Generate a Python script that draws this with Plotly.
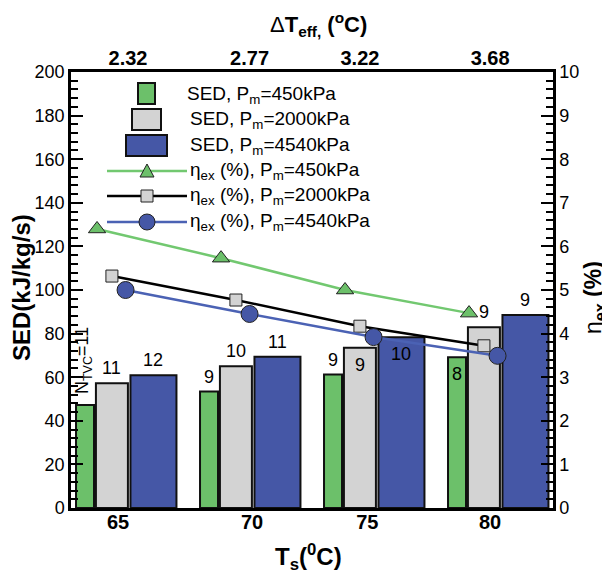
import plotly.graph_objects as go

# ---------------- data ----------------
Ts = [65, 70, 75, 80]
dTeff = ["2.32", "2.77", "3.22", "3.68"]

sed_450 = [47.2, 53.4, 61.2, 69.1]
sed_2000 = [57.2, 65.0, 73.5, 82.9]
sed_4540 = [60.9, 69.4, 78.3, 88.5]

eta_450 = [6.40, 5.73, 5.00, 4.47]
eta_2000 = [5.32, 4.77, 4.17, 3.72]
eta_4540 = [5.00, 4.45, 3.92, 3.49]

ntvc_450 = [11, 9, 9, 8]
ntvc_2000 = [11, 10, 9, 9]
ntvc_4540 = [12, 11, 10, 9]

# ---------------- style ----------------
FONT = "Liberation Sans, Arial, sans-serif"
GREEN = "#6cc06a"
GRAY = "#d3d3d3"
BLUE = "#4557a6"
GREEN_LINE = "#72c870"
BLUE_LINE = "#4b62b4"
EDGE = "#111111"

W, H = 610, 576
PAGE_OFF = 8                      # default body margin of the page
PL, PT, PW, PH = 71, 72, 482, 436  # plot area as seen on the page
L, T = PL - PAGE_OFF, PT - PAGE_OFF
R, B = W - L - PW, H - T - PH

grp = list(range(len(Ts)))
XR = [-0.04, PW / 124 - 0.04]

# per-series bar offset/width within a group (group units)
bar_specs = [
    (sed_450, ntvc_450, GREEN, 0.073, 0.145, ["rot", "above", "above", "below"]),
    (sed_2000, ntvc_2000, GRAY, 0.29, 0.258, ["above", "above", "below", "above"]),
    (sed_4540, ntvc_4540, BLUE, 0.625, 0.371, ["above", "above", "below", "above"]),
]
line_specs = [
    (eta_450, GREEN_LINE, GREEN, "triangle-up", 15, 0.17),
    (eta_2000, "#000000", GRAY, "square", 12, 0.29),
    (eta_4540, BLUE_LINE, BLUE, "circle", 17, 0.40),
]

fig = go.Figure()
annotations = []

for vals, labels, col, off, wd, place in bar_specs:
    xs = [g + off for g in grp]
    fig.add_trace(go.Bar(
        x=xs, y=vals, width=[wd] * len(vals),
        marker=dict(color=col, line=dict(color=EDGE, width=2)),
        xaxis="x", yaxis="y", showlegend=False,
    ))
    for x, v, n, p in zip(xs, vals, labels, place):
        if p == "rot":
            annotations.append(dict(
                x=x, y=v, xref="x", yref="y", text=f"N<sub>TVC</sub>={n}",
                textangle=-90, showarrow=False, yshift=44, xshift=-2,
                xanchor="center", yanchor="middle",
                font=dict(family=FONT, size=18, color="#000")))
        else:
            annotations.append(dict(
                x=x, y=v, xref="x", yref="y", text=str(n), showarrow=False,
                yshift=15 if p == "above" else -17,
                xanchor="center", yanchor="middle",
                font=dict(family=FONT, size=18, color="#000")))

for vals, lc, mc, sym, sz, off in line_specs:
    fig.add_trace(go.Scatter(
        x=[g + off for g in grp], y=vals, mode="lines+markers",
        line=dict(color=lc, width=2.5),
        marker=dict(symbol=sym, size=sz, color=mc, line=dict(color="#222", width=1)),
        xaxis="x2", yaxis="y2", showlegend=False,
    ))

# ---------------- legend (manual) ----------------
def px(x):
    return (x - PL) / PW

def py(y):
    return (PT + PH - y) / PH

shapes = []
leg_rects = [(GREEN, 138, 155, 83, 104), (GRAY, 132, 161, 109, 130), (BLUE, 126, 167, 135, 156)]
for col, x0, x1, y0, y1 in leg_rects:
    shapes.append(dict(type="rect", xref="paper", yref="paper",
                       x0=px(x0), x1=px(x1), y0=py(y1), y1=py(y0),
                       fillcolor=col, line=dict(color=EDGE, width=2)))
leg_lines = [(GREEN_LINE, GREEN, "tri", 171), ("#000000", GRAY, "sq", 196), (BLUE_LINE, BLUE, "circ", 222)]
for lc, mc, kind, yy in leg_lines:
    shapes.append(dict(type="line", xref="paper", yref="paper",
                       x0=px(107), x1=px(187), y0=py(yy), y1=py(yy),
                       line=dict(color=lc, width=2.5)))
    cx = 147
    if kind == "tri":
        path = f"M {px(cx-7)},{py(yy+6)} L {px(cx+7)},{py(yy+6)} L {px(cx)},{py(yy-7)} Z"
        shapes.append(dict(type="path", xref="paper", yref="paper", path=path,
                           fillcolor=mc, line=dict(color="#222", width=1)))
    elif kind == "sq":
        shapes.append(dict(type="rect", xref="paper", yref="paper",
                           x0=px(cx-6), x1=px(cx+6), y0=py(yy+6), y1=py(yy-6),
                           fillcolor=mc, line=dict(color="#222", width=1)))
    else:
        shapes.append(dict(type="circle", xref="paper", yref="paper",
                           x0=px(cx-8), x1=px(cx+8), y0=py(yy+8), y1=py(yy-8),
                           fillcolor=mc, line=dict(color="#222", width=1)))

leg_texts = [
    ("SED, P<sub>m</sub>=450kPa", 185, 95),
    ("SED, P<sub>m</sub>=2000kPa", 188, 120),
    ("SED, P<sub>m</sub>=4540kPa", 188, 146),
    ("η<sub>ex</sub> (%), P<sub>m</sub>=450kPa", 188, 171),
    ("η<sub>ex</sub> (%), P<sub>m</sub>=2000kPa", 188, 196),
    ("η<sub>ex</sub> (%), P<sub>m</sub>=4540kPa", 188, 222),
]
for txt, x, y in leg_texts:
    annotations.append(dict(x=px(x), y=py(y), xref="paper", yref="paper", text=txt,
                            xanchor="left", yanchor="middle", showarrow=False,
                            font=dict(family=FONT, size=19, color="#000")))

# ---------------- axis titles ----------------
annotations += [
    dict(x=px(21), y=py(288), xref="paper", yref="paper", text="<b>SED(kJ/kg/s)</b>",
         textangle=-90, showarrow=False, xanchor="center", yanchor="middle",
         font=dict(family=FONT, size=24, color="#000")),
    dict(x=px(594), y=py(298), xref="paper", yref="paper", text="η<b><sub>ex</sub> (%)</b>",
         textangle=-90, showarrow=False, xanchor="center", yanchor="middle",
         font=dict(family=FONT, size=23, color="#000")),
    dict(x=px(318), y=py(24), xref="paper", yref="paper",
         text="Δ<b>T<sub>eff,</sub> (<sup>o</sup>C)</b>",
         showarrow=False, xanchor="center", yanchor="middle",
         font=dict(family=FONT, size=22, color="#000")),
    dict(x=px(308), y=py(557), xref="paper", yref="paper",
         text="<b>T<sub>s</sub>(<sup>0</sup>C)</b>",
         showarrow=False, xanchor="center", yanchor="middle",
         font=dict(family=FONT, size=24, color="#000")),
]

axis_common = dict(showline=True, linecolor="#000", linewidth=2.5, showgrid=False,
                   zeroline=False, automargin=False)

fig.update_layout(
    width=W, height=H,
    margin=dict(l=L, r=R, t=T, b=B, pad=0, autoexpand=False),
    paper_bgcolor="white", plot_bgcolor="white",
    barmode="overlay", showlegend=False,
    font=dict(family=FONT, color="#000"),
    xaxis=dict(range=XR, tickmode="array",
               tickvals=[0.34, 1.42, 2.35, 3.34], ticktext=[str(t) for t in Ts],
               ticks="", ticklabelstandoff=-6,
               tickfont=dict(family=FONT, size=20, weight="bold"),
               **axis_common),
    xaxis2=dict(range=XR, overlaying="x", side="top", anchor="y", tickmode="array",
                tickvals=[0.42, 1.40, 2.29, 3.34], ticktext=dTeff,
                ticks="", ticklabelstandoff=-4,
                tickfont=dict(family=FONT, size=20, weight="bold"),
                **axis_common),
    yaxis=dict(range=[0, 200], dtick=20, ticks="inside", ticklen=12, tickwidth=2,
               tickcolor="#000", tickfont=dict(family=FONT, size=18),
               minor=dict(dtick=4, ticks="inside", ticklen=7, tickwidth=1.5, tickcolor="#000"),
               **axis_common),
    yaxis2=dict(range=[0, 10], dtick=1, overlaying="y", side="right", anchor="x",
                ticks="inside", ticklen=12, tickwidth=2, tickcolor="#000",
                tickfont=dict(family=FONT, size=18),
                minor=dict(dtick=0.2, ticks="inside", ticklen=7, tickwidth=1.5, tickcolor="#000"),
                **axis_common),
    shapes=shapes,
    annotations=annotations,
)

fig.write_html("out.html")
